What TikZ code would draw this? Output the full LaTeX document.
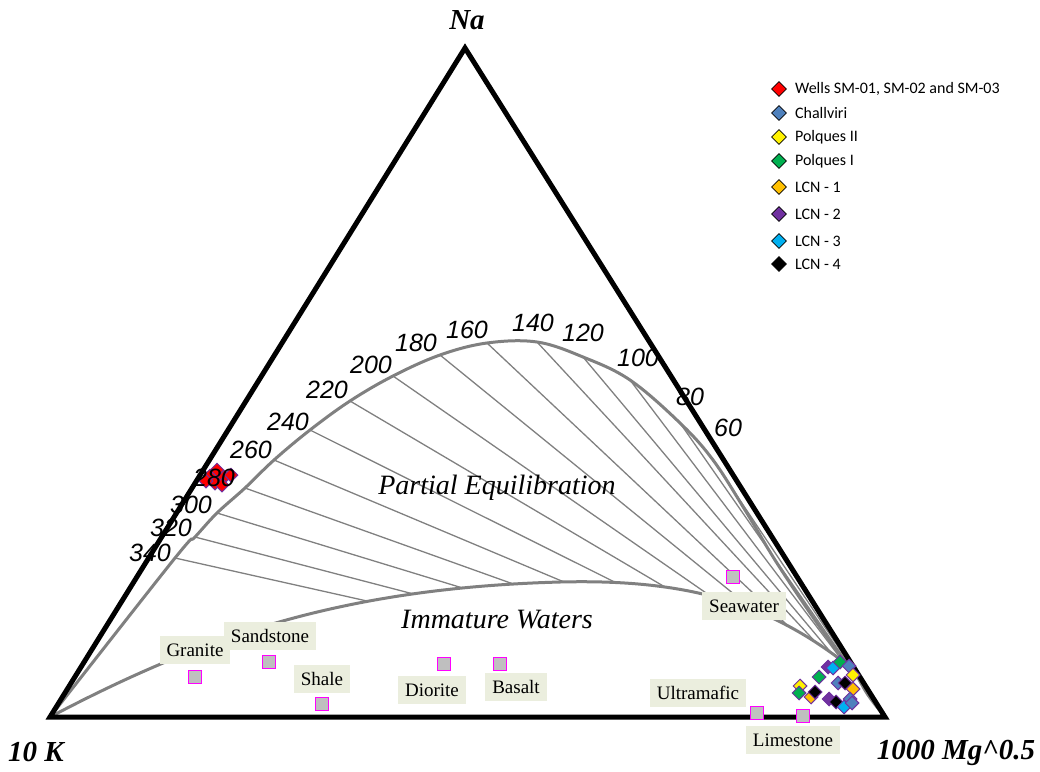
\documentclass[tikz,border=0pt]{standalone}
\usepackage{fontspec}
\setmainfont{Liberation Serif}
\newfontfamily\arialfont{Liberation Sans}
\newfontfamily\calfont{Carlito}
\usepackage{tikz}
\usetikzlibrary{shapes.geometric,calc,positioning}
\definecolor{purp}{RGB}{112,48,160}
\definecolor{steel}{RGB}{79,129,189}
\definecolor{ltgreen}{RGB}{0,176,80}
\definecolor{amber}{RGB}{255,192,0}
\definecolor{skyb}{RGB}{0,176,240}
\definecolor{boxbg}{RGB}{235,238,222}
\definecolor{curvegray}{RGB}{128,128,128}
\definecolor{magent}{RGB}{255,0,255}
\newcommand{\uppercurve}{
	plot[smooth, tension=0.6] coordinates {(k) (t340) (t320) (t300) (t280) (t260) (t240) (t220) (t200) (t180) (t160) (t140) (t120) (t100) (t80) (t60)
	(745,510) (775,560) (808,610) (835,648) (852,668) (868,695) (mg)}
	}
\newcommand{\lowercurve}{
	(k) .. controls (200,638) and (340,588) .. (560,582)
	.. controls (680,579) and (760,600) .. (837,657)
	.. controls (860,674) and (872,695) .. (mg)
	}

\begin{document}
\begin{tikzpicture}[x=1pt, y=-1pt,
	datapt/.style={diamond, draw=purp, line width=1pt, fill=#1, minimum size=14pt, inner sep=0pt},
	keypt/.style={diamond, draw=black, line width=0.8pt, fill=#1, minimum size=15pt, inner sep=0pt},
	keytxt/.style={anchor=west, font=\calfont\fontsize{16}{16}\selectfont, inner sep=0pt},
	rocksq/.style={rectangle, draw=magent, fill=gray!50, line width=1.2pt, minimum size=13pt, inner sep=0pt},
	rocklbl/.style={fill=boxbg, font=\fontsize{19}{19}\selectfont, inner xsep=7pt, minimum height=28pt},
	tlabel/.style={font=\arialfont\itshape\fontsize{25}{25}\selectfont, inner sep=0pt},
	axlbl/.style={font=\bfseries\itshape\fontsize{29}{29}\selectfont, inner sep=0pt},
	zone/.style={font=\itshape\fontsize{28}{28}\selectfont, inner sep=0pt},
	isotherm/.style={draw=curvegray, line width=1.3pt},
	eqline/.style={draw=curvegray, line width=3pt}]

	\useasboundingbox (0,0) rectangle (1040,771);

	\coordinate (k) at (50,717);
	\coordinate (na) at (465,48);
	\coordinate (mg) at (885,717);

	% points of full equilibrium
	\foreach \t/\x/\y in {340/175/558, 320/195/537, 300/217/513, 280/245/488, 260/274/460, 240/310/430, 220/350/401, 200/393/376,
		180/440/355, 160/487/343, 140/537/342, 120/583/357, 100/630/380, 80/680/423, 60/713/460}
		\coordinate (t\t) at (\x,\y);

	% isotherms, cut by the immature waters
	\foreach \t in {340,320,...,60}
		\draw[isotherm] (t\t) -- (mg);
	\fill[white] \lowercurve -- cycle;

	\draw[eqline] \uppercurve;
	\draw[eqline] \lowercurve;

	% triangle
	\draw[line width=5pt] (k) -- (na) -- (mg) -- cycle;

	\node[axlbl] (nalbl) at (467,20) {Na};
	\node[axlbl] (klbl) at (36,752) {10 K};
	\node[axlbl] (mglbl) at (956,753) {1000 Mg\textasciicircum 0.5};

	\node[zone] (partial) at (497,488) {Partial Equilibration};
	\node[zone] (immature) at (497,620) {Immature Waters};

	% rocks
	\node[rocklbl] (granite) at (195,650) {Granite};
	\node[rocklbl] (sandstone) at (270,636) {Sandstone};
	\node[rocklbl] (shale) at (322,679) {Shale};
	\node[rocklbl] (diorite) at (432,690) {Diorite};
	\node[rocklbl] (basalt) at (516,687) {Basalt};
	\node[rocklbl] (seawater) at (744,606) {Seawater};
	\node[rocklbl] (ultramafic) at (698,693) {Ultramafic};
	\node[rocklbl] (limestone) at (793,740) {Limestone};
	\foreach \r/\x/\y in {granite/195/677, sandstone/269/662, shale/322/704, diorite/444/664, basalt/500/664,
		seawater/733/577, ultramafic/757/713, limestone/803/716}
		\node[rocksq] (sq\r) at (\x,\y) {};

	% samples
	\foreach \x/\y [count=\i] in {210/476, 217/470, 224/477, 215/483, 231/475, 222/485, 206/481}
		\node[datapt=red] (sm\i) at (\x,\y) {};
	\foreach \c/\x/\y [count=\i] in {purp/828/667, skyb/833/668, ltgreen/840/662, steel/849/666, yellow/853/675, ltgreen/819/677,
		steel/838/683, black/845/683, amber/853/689, yellow/800/686, ltgreen/799/693, amber/811/697, black/815/692,
		purp/829/699, steel/850/699, black/836/702, skyb/844/707, steel/852/703}
		\node[datapt=\c] (lcn\i) at (\x,\y) {};

	\foreach \t/\x/\y in {340/150/553, 320/171/528, 300/191/505, 280/214/478, 260/251/450, 240/288/422, 220/327/390, 200/371/365,
		180/416/343, 160/467/330, 140/533/323, 120/583/333, 100/638/358, 80/690/397, 60/728/428}
		\node[tlabel] (lbl\t) at (\x,\y) {\t};

	% legend
	\foreach \c/\y/\t in {red/89/{Wells SM-01, SM-02 and SM-03}, steel/113/Challviri, yellow/137/Polques II, ltgreen/161/Polques I,
		amber/187/LCN - 1, purp/214/LCN - 2, skyb/241/LCN - 3, black/264/LCN - 4}{
		\node[keypt=\c] (key\y) at (779,\y) {};
		\node[keytxt, right=8pt of key\y] (keytxt\y) {\t};
	}

\end{tikzpicture}
\end{document}
